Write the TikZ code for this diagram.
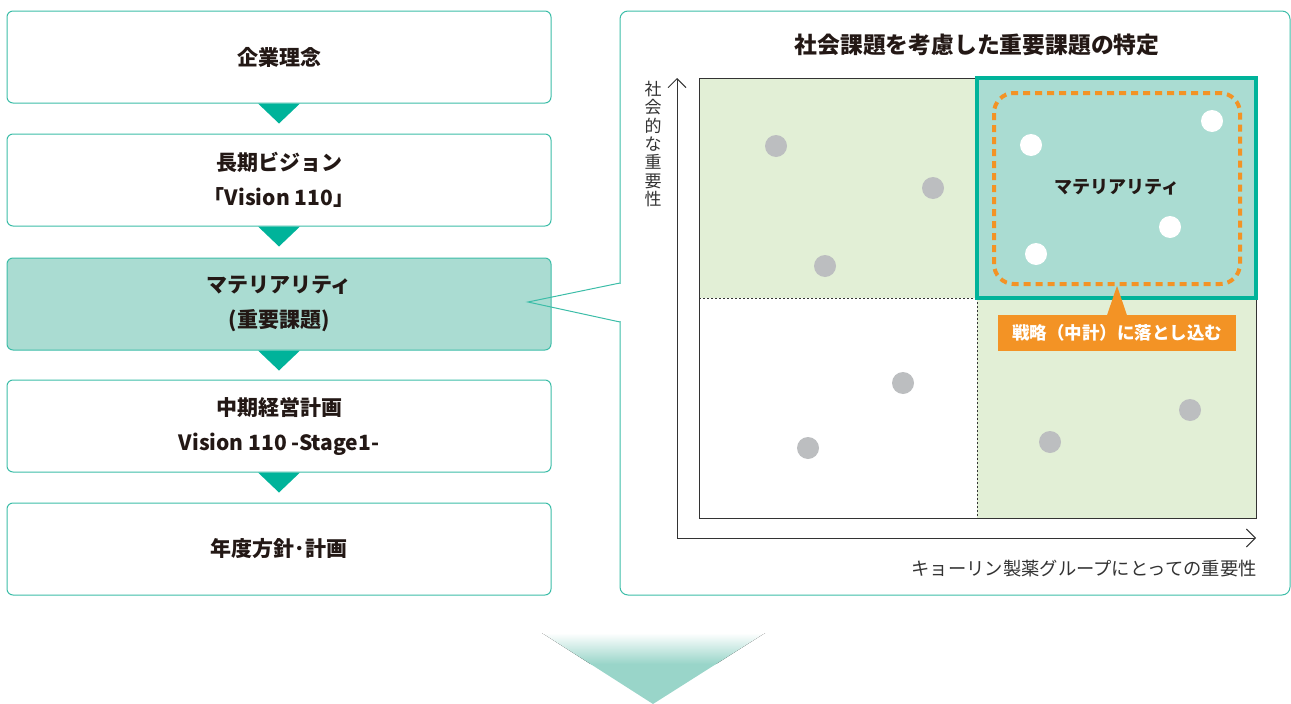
\documentclass[tikz,border=0pt]{standalone}
\usepackage{fontspec}
\setmainfont{Noto Sans CJK JP}
\usetikzlibrary{arrows.meta,calc}
\definecolor{tealD}{HTML}{00B39A}
\definecolor{tealB}{HTML}{3CBDA8}
\definecolor{tealL}{HTML}{AADCD2}
\definecolor{greenL}{HTML}{E2EFD6}
\definecolor{orangeC}{HTML}{F39325}
\definecolor{dotG}{HTML}{BCBEC0}
\definecolor{txt}{HTML}{231815}
\definecolor{axisC}{HTML}{333333}
\definecolor{arrowC}{HTML}{99D5C9}
\begin{document}
\begin{tikzpicture}[x=1pt,y=-1pt,
  box/.style={draw=tealB, line width=1pt, rounded corners=6pt, fill=white,
    minimum width=544pt, minimum height=92pt, align=center, text=txt,
    font=\fontsize{21}{35}\selectfont\bfseries, inner sep=0pt},
  hibox/.style={box, fill=tealL},
  flowtri/.style={fill=tealD},
  gdot/.style={circle, fill=dotG, minimum size=22pt, inner sep=0pt},
  wdot/.style={circle, fill=white, minimum size=22pt, inner sep=0pt},
  quaddiv/.style={axisC, line width=0.8pt, dash pattern=on 2pt off 2pt},
  axisline/.style={axisC, line width=0.9pt, -{Straight Barb[length=9pt,width=18pt]}},
  axislabel/.style={text=axisC, inner sep=0pt},
]
\useasboundingbox (0,0) rectangle (1291,704);

% left flow
\node[box]   (b1) at (279,57)  {企業理念};
\node[box]   (b2) at (279,180) {長期ビジョン\\「Vision 110」};
\node[hibox] (b3) at (279,304) {マテリアリティ\\(重要課題)};
\node[box]   (b4) at (279,426) {中期経営計画\\Vision 110 -Stage1-};
\node[box]   (b5) at (279,549) {年度方針･計画};
\foreach \n in {b1,b2,b3,b4}{
  \fill[flowtri] ($(\n.south)+(-21,0)$) -- ($(\n.south)+(21,0)$) -- ($(\n.south)+(0,20)$) -- cycle;
}

% right panel with callout
\draw[tealB, line width=1pt, rounded corners=8pt] (620,11) rectangle (1290,595);
\fill[white] (618,283.6) rectangle (622,321.4);
\coordinate (cA) at (620,283);
\coordinate (cT) at (528,302);
\coordinate (cB) at (620,322);
\draw[tealB, line width=1pt] (cA) -- (cT) -- (cB);

\node[font=\fontsize{22.8}{22.8}\selectfont\bfseries, text=txt] (title) at (977,45) {社会課題を考慮した重要課題の特定};

% matrix
\fill[greenL] (699,78) rectangle (977,298);
\fill[greenL] (977,298) rectangle (1256,518);
\fill[tealL] (977,78) rectangle (1256,298);
\draw[quaddiv] (699,298) -- (977,298);
\draw[quaddiv] (977,298) -- (977,518);
\draw[axisC, line width=0.9pt] (699,78) rectangle (1256,518);
\draw[tealD, line width=4pt] (977,78) rectangle (1256,298);
\draw[orangeC, line width=4pt, dash pattern=on 7pt off 5pt, rounded corners=20pt] (994,93) rectangle (1240,284);

% dots
\node[gdot] (g1) at (776,146) {};
\node[gdot] (g2) at (933,188) {};
\node[gdot] (g3) at (825,266) {};
\node[gdot] (g4) at (903,383) {};
\node[gdot] (g5) at (808,448) {};
\node[gdot] (g6) at (1050,442) {};
\node[gdot] (g7) at (1190,410) {};
\node[wdot] (w1) at (1031,145) {};
\node[wdot] (w2) at (1212,121) {};
\node[wdot] (w3) at (1170,227) {};
\node[wdot] (w4) at (1036,254) {};

\node[font=\fontsize{18}{18}\selectfont\bfseries, text=txt] (mat) at (1117,187) {マテリアリティ};

% strategy label
\node[fill=orangeC, text=white, minimum width=238pt, minimum height=36pt, inner sep=0pt,
  font=\fontsize{17.5}{17.5}\selectfont\bfseries] (strat) at (1117,333) {戦略（中計）に落とし込む};
\fill[orangeC] ($(strat.north)+(-10,0.5)$) -- ($(strat.north)+(0,-29)$) -- ($(strat.north)+(10,0.5)$) -- cycle;

% axes
\coordinate (origin) at (677,538);
\coordinate (ytop) at (677,78);
\coordinate (xend) at (1256,538);
\draw[axisline] (origin) -- (ytop);
\draw[axisline] (origin) -- (xend);
\node[axislabel, align=center, font=\fontsize{17}{18.3}\selectfont] (ylab) at (653,144) {社\\会\\的\\な\\重\\要\\性};
\node[axislabel, anchor=east, font=\fontsize{18.3}{18.3}\selectfont] (xlab) at (1257,569) {キョーリン製薬グループにとっての重要性};

% bottom gradient arrow
\begin{scope}
\clip (542,633) -- (765,633) -- (653,704) -- cycle;
\fill[top color=white, bottom color=arrowC] (540,633) rectangle (767,664);
\fill[arrowC] (540,663.5) rectangle (767,706);
\end{scope}
\end{tikzpicture}
\end{document}
